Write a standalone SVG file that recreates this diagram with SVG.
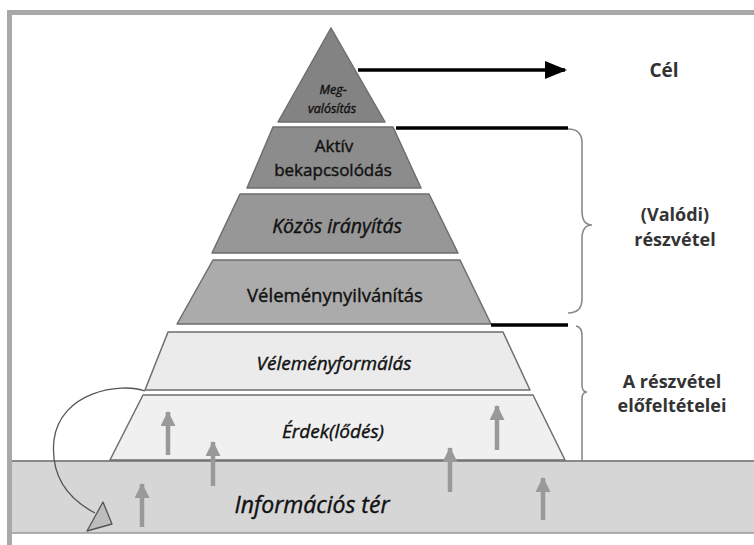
<svg xmlns="http://www.w3.org/2000/svg" width="754" height="545" viewBox="0 0 754 545">
  <style>
    .layer { stroke: #6e6e6e; stroke-width: 1.5; stroke-linejoin: round; }
    .lbl { font-family: "Open Sans", "Noto Sans", sans-serif; font-weight: 400; fill: #111; stroke: #111; stroke-width: 0.4; text-anchor: middle; }
    .it { font-style: italic; }
    .side { font-family: "Open Sans", "Noto Sans", sans-serif; font-weight: 700; fill: #333; text-anchor: middle; }
    .blk { stroke: #000; stroke-width: 3.5; fill: none; }
    .brace { stroke: #8a8a8a; stroke-width: 1.6; fill: none; }
    .up { stroke: #999; stroke-width: 4.5; fill: none; }
  </style>
  <defs>
    <marker id="bh" markerUnits="userSpaceOnUse" markerWidth="22" markerHeight="18" refX="20" refY="9" orient="auto">
      <path d="M0,0 L22,9 L0,18 Z" fill="#000"/>
    </marker>
    <marker id="gh" markerUnits="userSpaceOnUse" markerWidth="15" markerHeight="15" refX="14" refY="7.5" orient="auto">
      <path d="M0,0 L15,7.5 L0,15 Z" fill="#999"/>
    </marker>
  </defs>

  <rect x="0" y="0" width="754" height="545" fill="#ffffff"/>
  <path d="M9.5,545 L9.5,12.5 L754,12.5" fill="none" stroke="#a8a8a8" stroke-width="5"/>

  <g id="informacios-ter">
    <rect x="12" y="461" width="742" height="72" fill="#d6d6d6"/>
    <line x1="12" y1="461" x2="754" y2="461" stroke="#888" stroke-width="1.8"/>
    <line x1="12" y1="533" x2="754" y2="533" stroke="#999" stroke-width="1.5"/>
    <text class="lbl it" x="312" y="513" font-size="23">Információs tér</text>
  </g>

  <g id="erdeklodes">
    <polygon class="layer" points="143,395 533,395 565,460 110,460" fill="#f0f0f0"/>
    <text class="lbl it" x="333" y="438" font-size="19">Érdek(lődés)</text>
  </g>

  <g id="velemenyformalas">
    <polygon class="layer" points="168,332 503,332 530,390 145,390" fill="#ebebeb"/>
    <text class="lbl it" x="334" y="370" font-size="19">Véleményformálás</text>
  </g>

  <g id="velemenynyilvanitas">
    <polygon class="layer" points="213,260 460,260 491,324 177,324" fill="#ababab"/>
    <text class="lbl" x="335" y="302" font-size="18.5">Véleménynyilvánítás</text>
  </g>

  <g id="kozos-iranyitas">
    <polygon class="layer" points="240,194 429,194 458,253 212,253" fill="#979797"/>
    <text class="lbl it" x="337" y="233" font-size="19.5">Közös irányítás</text>
  </g>

  <g id="aktiv-bekapcsolodas">
    <polygon class="layer" points="273,127 393,127 421,188 247,188" fill="#8c8c8c"/>
    <text class="lbl" x="334" y="152" font-size="17">Aktív</text>
    <text class="lbl" x="333" y="176" font-size="17">bekapcsolódás</text>
  </g>

  <g id="megvalositas">
    <polygon class="layer" points="331,28 385,122 278,122" fill="#838383"/>
    <text class="lbl it" x="333" y="94" font-size="12.5">Meg-</text>
    <text class="lbl it" x="332" y="113" font-size="12.5">valósítás</text>
  </g>

  <g id="labels">
    <text class="side" x="664" y="77" font-size="19">Cél</text>
    <text class="side" x="675" y="221" font-size="18">(Valódi)</text>
    <text class="side" x="675" y="246" font-size="18">részvétel</text>
    <text class="side" x="672" y="388" font-size="18">A részvétel</text>
    <text class="side" x="672" y="412" font-size="18">előfeltételei</text>
  </g>

  <g id="connectors">
    <line class="blk" x1="358" y1="70" x2="565" y2="70" marker-end="url(#bh)"/>
    <line class="blk" x1="396" y1="128" x2="568" y2="128"/>
    <line class="blk" x1="491" y1="325" x2="568" y2="325"/>
    <path class="brace" d="M568,129 Q582,129 582,143 L582,211 Q582,225 592,225 Q582,225 582,239 L582,299 Q582,313 568,313"/>
    <path class="brace" d="M576,326 Q582,327 582,336 L582,385 Q582,392 587,392 Q582,392 582,399 L582,460"/>
    <path d="M145,391 C120,382 60,392 54,440 C50,478 70,500 95,513" fill="none" stroke="#555" stroke-width="1.3"/>
    <polygon points="103,502 112,524 87,531" fill="#bdbdbd" stroke="#555" stroke-width="1.3" stroke-linejoin="round"/>
    <line class="up" x1="168" y1="455" x2="168" y2="412" marker-end="url(#gh)"/>
    <line class="up" x1="213" y1="486" x2="213" y2="442" marker-end="url(#gh)"/>
    <line class="up" x1="142" y1="527" x2="142" y2="484" marker-end="url(#gh)"/>
    <line class="up" x1="450" y1="492" x2="450" y2="448" marker-end="url(#gh)"/>
    <line class="up" x1="497" y1="450" x2="497" y2="406" marker-end="url(#gh)"/>
    <line class="up" x1="543" y1="520" x2="543" y2="478" marker-end="url(#gh)"/>
  </g>
</svg>
